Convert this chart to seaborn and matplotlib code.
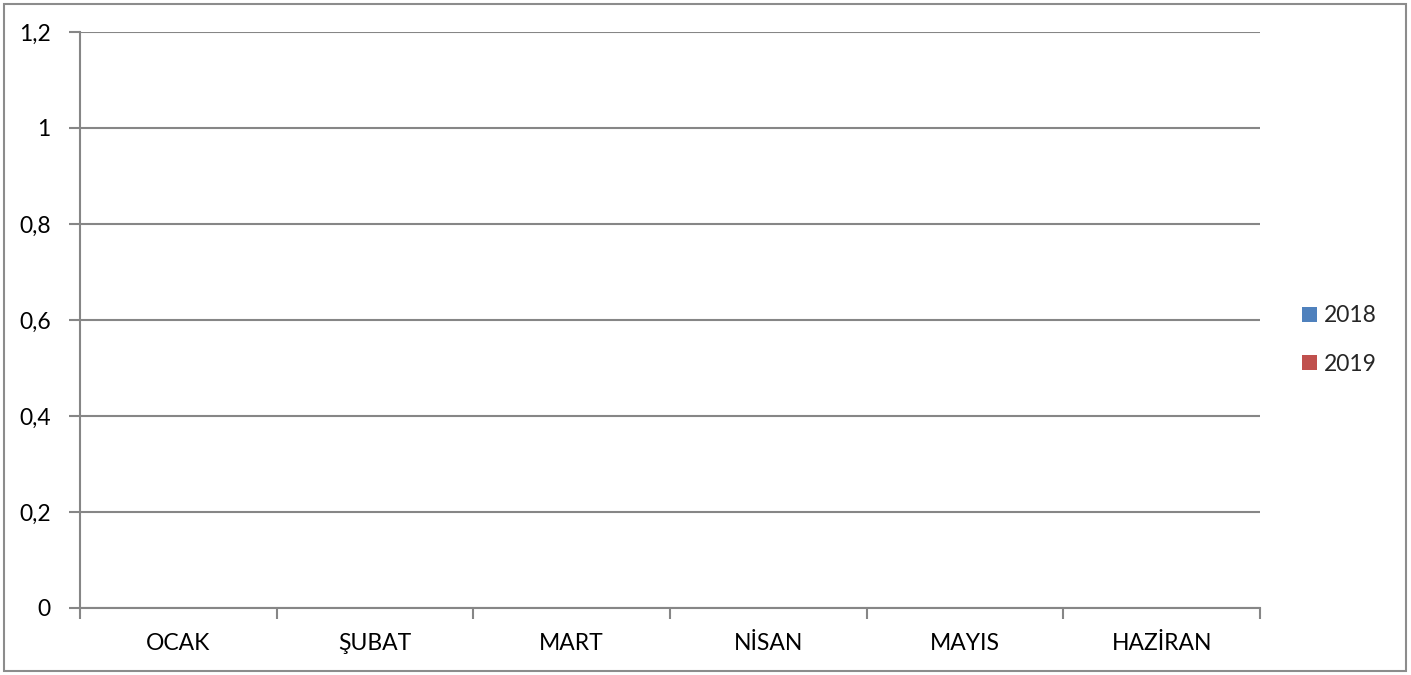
import matplotlib
matplotlib.use("Agg")
import matplotlib.pyplot as plt
import seaborn as sns
import pandas as pd
from matplotlib.patches import Rectangle, Patch
from matplotlib.ticker import FixedLocator, FuncFormatter

months = ["OCAK", "ŞUBAT", "MART", "NİSAN", "MAYIS", "HAZİRAN"]
values_2018 = [0, 0, 0, 0, 0, 0]
values_2019 = [0, 0, 0, 0, 0, 0]
years = ["2018", "2019"]
colors = ["#4F81BD", "#C0504D"]
y_ticks = [0, 0.2, 0.4, 0.6, 0.8, 1.0, 1.2]

df = pd.DataFrame({
    "month": months * 2,
    "value": values_2018 + values_2019,
    "year": [years[0]] * len(months) + [years[1]] * len(months),
})

sns.set_style("white")
plt.rcParams["font.family"] = ["Lato", "DejaVu Sans"]

fig = plt.figure(figsize=(14.11, 6.75), dpi=100)
ax = fig.add_axes([80 / 1411, 1 - 608 / 675, (1260 - 80) / 1411, (608 - 32) / 675])

sns.barplot(data=df, x="month", y="value", hue="year", palette=colors, ax=ax,
            order=months, hue_order=years, legend=False)

grid_c = "#868686"
ax.set_xlim(-0.5, len(months) - 0.5)
ax.set_ylim(0, 1.2)
ax.set_yticks(y_ticks)
ax.yaxis.set_major_formatter(FuncFormatter(lambda v, p: ("%g" % round(v, 2)).replace(".", ",")))
ax.grid(axis="y", color=grid_c, linewidth=1.5)
ax.set_axisbelow(True)
ax.set_xlabel("")
ax.set_ylabel("")

for s in ["top", "right"]:
    ax.spines[s].set_visible(False)
for s in ["left", "bottom"]:
    ax.spines[s].set_color(grid_c)
    ax.spines[s].set_linewidth(1.5)

ax.tick_params(axis="y", which="major", length=8, width=1.5, color=grid_c,
               pad=13, labelsize=16.5, labelcolor="black", left=True)
ax.tick_params(axis="x", which="major", length=0, pad=18, labelsize=16.5, labelcolor="black")
ax.xaxis.set_minor_locator(FixedLocator([i - 0.5 for i in range(len(months) + 1)]))
ax.tick_params(axis="x", which="minor", length=8, width=1.5, color=grid_c, bottom=True)

handles = [Patch(facecolor=c, edgecolor="none", linewidth=0) for c in colors]
fig.legend(handles, years, loc="center left", bbox_to_anchor=(1302 / 1411, 1 - 340 / 675),
           frameon=False, fontsize=16.5, handlelength=0.65, handleheight=0.65,
           handletextpad=0.3, labelspacing=1.2, borderaxespad=0, borderpad=0)

fig.patches.append(Rectangle((4 / 1411, 4 / 675), 1402 / 1411, 667 / 675, transform=fig.transFigure,
                             fill=False, edgecolor="#8c8c8c", linewidth=1.5))

fig.savefig("out.png", dpi=100)
